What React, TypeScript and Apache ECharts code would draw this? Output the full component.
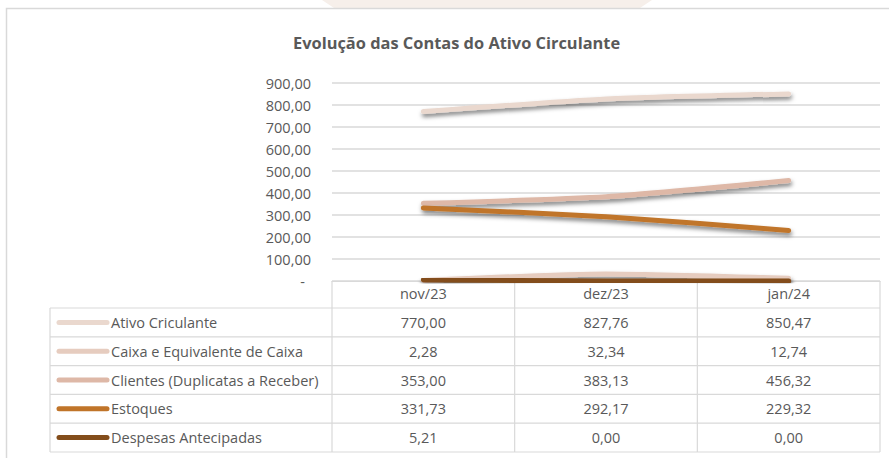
import React, { useEffect, useRef } from "react";
import * as echarts from "echarts";

const categories = ["nov/23", "dez/23", "jan/24"];
const seriesNames = [
  "Ativo Criculante",
  "Caixa e Equivalente de Caixa",
  "Clientes (Duplicatas a Receber)",
  "Estoques",
  "Despesas Antecipadas",
];
const ativo = [770.0, 827.76, 850.47];
const caixa = [2.28, 32.34, 12.74];
const clientes = [353.0, 383.13, 456.32];
const estoques = [331.73, 292.17, 229.32];
const despesas = [5.21, 0.0, 0.0];
const colors = ["#EAD8CE", "#E6CCBF", "#DEB8A7", "#C07429", "#834D1B"];
const titleText = "Evolução das Contas do Ativo Circulante";

const W = 889;
const H = 458;
const FONT = "Open Sans";
const TXT = "#595959";
const BORDER = "#D9D9D9";
const FS = 14.5;

const fmt = (v: number) => v.toFixed(2).replace(".", ",");

export default function App() {
  const ref = useRef<HTMLDivElement>(null);
  useEffect(() => {
    document.body.style.margin = "0";
    const chart = echarts.init(ref.current!, null, { renderer: "svg" });
    const values = [ativo, caixa, clientes, estoques, despesas];

    const gridLeft = 332;
    const gridRight = 880;
    const gridTop = 83;
    const gridBottom = 281;
    const colW = (gridRight - gridLeft) / categories.length;
    const rowTop = 308;
    const rowH = 28.8;
    const tableLeft = 50;
    const tableBottom = rowTop + rowH * seriesNames.length;

    const graphics: any[] = [];
    graphics.push({
      type: "polygon",
      silent: true,
      shape: { points: [[322, 0], [652, 0], [640, 8], [334, 8]] },
      style: { fill: "#F6EFEA" },
    });
    graphics.push({
      type: "polyline",
      shape: { points: [[6.5, H + 2], [6.5, 8.5], [W + 2, 8.5]] },
      style: { stroke: BORDER, lineWidth: 1.5, fill: "none" },
    });
    for (let k = 0; k <= seriesNames.length; k++) {
      const y = rowTop + k * rowH;
      graphics.push({
        type: "line",
        shape: { x1: tableLeft, y1: y, x2: gridRight, y2: y },
        style: { stroke: BORDER, lineWidth: 1.2 },
      });
    }
    graphics.push({
      type: "line",
      shape: { x1: tableLeft, y1: rowTop, x2: tableLeft, y2: tableBottom },
      style: { stroke: BORDER, lineWidth: 1.2 },
    });
    for (let c = 0; c <= categories.length; c++) {
      const x = gridLeft + c * colW;
      graphics.push({
        type: "line",
        shape: { x1: x, y1: gridBottom, x2: x, y2: tableBottom },
        style: { stroke: BORDER, lineWidth: 1.2 },
      });
    }
    seriesNames.forEach((name, r) => {
      const cy = rowTop + (r + 0.5) * rowH;
      graphics.push({
        type: "line",
        shape: { x1: 59, y1: cy, x2: 107, y2: cy },
        style: { stroke: colors[r], lineWidth: 5, lineCap: "round" },
      });
      graphics.push({
        type: "text",
        x: 111,
        y: cy,
        style: {
          text: name,
          fill: TXT,
          font: `${FS}px "${FONT}"`,
          align: "left",
          verticalAlign: "middle",
        },
      });
      values[r].forEach((v, c) => {
        graphics.push({
          type: "text",
          x: gridLeft + (c + 0.5) * colW,
          y: cy,
          style: {
            text: fmt(v),
            fill: TXT,
            font: `${FS}px "${FONT}"`,
            align: "center",
            verticalAlign: "middle",
          },
        });
      });
    });

    chart.setOption({
      animation: false,
      backgroundColor: "#ffffff",
      title: {
        text: titleText,
        left: 288,
        top: 29,
        textStyle: { fontFamily: FONT, fontSize: 16.4, fontWeight: "bold", color: TXT },
      },
      grid: {
        left: gridLeft,
        right: W - gridRight,
        top: gridTop,
        bottom: H - gridBottom,
        containLabel: false,
      },
      xAxis: {
        type: "category",
        data: categories,
        boundaryGap: true,
        axisLine: { show: true, lineStyle: { color: BORDER, width: 1.2 } },
        axisTick: { show: false },
        axisLabel: { color: TXT, fontFamily: FONT, fontSize: FS, margin: 5 },
      },
      yAxis: {
        type: "value",
        min: 0,
        max: 900,
        interval: 100,
        axisLine: { show: false },
        axisTick: { show: false },
        splitLine: { lineStyle: { color: BORDER, width: 1.5 } },
        axisLabel: {
          color: TXT,
          fontFamily: FONT,
          fontSize: FS,
          margin: 21,
          formatter: (v: number) => (v === 0 ? "{d|-}" : fmt(v)),
          rich: { d: { color: TXT, fontFamily: FONT, fontSize: FS, padding: [0, 6, 0, 0] } },
        },
      },
      series: seriesNames.map((name, i) => ({
        name,
        type: "line",
        data: values[i],
        symbol: "none",
        smooth: 0.2,
        lineStyle: {
          color: colors[i],
          width: 5,
          cap: "round",
          shadowColor: "rgba(0,0,0,0.5)",
          shadowBlur: 4,
          shadowOffsetX: 1,
          shadowOffsetY: 3,
        },
        z: 2 + i,
      })),
      graphic: graphics,
    });
    return () => chart.dispose();
  }, []);
  return (
    <div
      ref={ref}
      style={{ width: W, height: H, position: "absolute", left: 0, top: 0 }}
    />
  );
}
